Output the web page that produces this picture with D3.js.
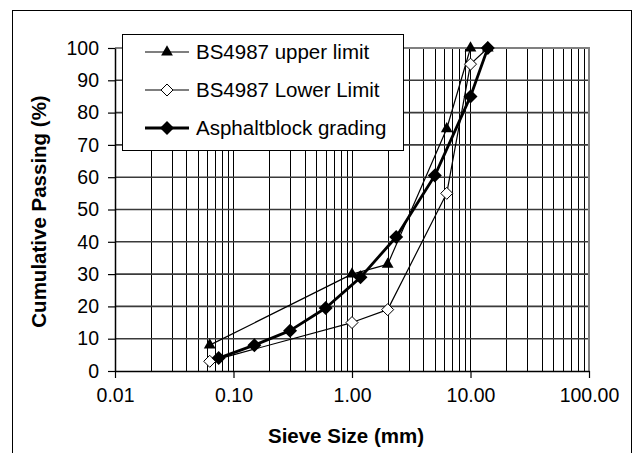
<!DOCTYPE html>
<html><head><meta charset="utf-8">
<script src="https://cdn.jsdelivr.net/npm/d3@7"></script>
<style>html,body{margin:0;padding:0;background:#fff;overflow:hidden}</style>
</head><body>
<svg id="chart" width="634" height="453"></svg>
<script>
const limitSieves = [0.063, 1.0, 2.0, 6.3, 10, 14];
const upperLimit = [8, 30, 33, 75, 100, 100];
const lowerLimit = [3, 15, 19, 55, 95, 100];
const gradingSieves = [0.075, 0.15, 0.3, 0.6, 1.18, 2.36, 5, 10, 14];
const gradingValues = [4, 8, 12.5, 19.5, 29, 41.5, 60.5, 85, 100];
const xTickValues = [0.01, 0.1, 1, 10, 100];
const xTickLabels = ["0.01", "0.10", "1.00", "10.00", "100.00"];
const yTickValues = [0, 10, 20, 30, 40, 50, 60, 70, 80, 90, 100];
const seriesNames = ["BS4987 upper limit", "BS4987 Lower Limit", "Asphaltblock grading"];

const svg = d3.select("#chart");
const font = "'Liberation Sans', Arial, sans-serif";
const L = 115, R = 589, T = 48, B = 371;
const x = d3.scaleLog().domain([0.01, 100]).range([L, R]);
const y = d3.scaleLinear().domain([0, 100]).range([B, T]);

// outer frame
svg.append("rect").attr("x", 12.5).attr("y", 10.5).attr("width", 619).attr("height", 470)
  .attr("fill", "#fff").attr("stroke", "#000").attr("stroke-width", 1);

// vertical gridlines (log minor)
const vgrid = [];
for (let d = 0.01; d < 100; d *= 10) for (let k = 1; k <= 9; k++) vgrid.push(d * k);
svg.append("g").selectAll("line").data(vgrid.filter(v => v > 0.0100001)).join("line")
  .attr("x1", d => Math.round(x(d)) + 0.5).attr("x2", d => Math.round(x(d)) + 0.5)
  .attr("y1", T).attr("y2", B).attr("stroke", "#000").attr("stroke-width", 1);

// horizontal gridlines
svg.append("g").selectAll("line").data(yTickValues.filter(v => v > 0 && v < 100)).join("line")
  .attr("x1", L).attr("x2", R).attr("y1", d => y(d)).attr("y2", d => y(d))
  .attr("stroke", "#3a3a3a").attr("stroke-width", 1.6);

// plot border (top/right)
svg.append("path").attr("d", `M${L},${T}H${R}V${B}`).attr("fill", "none")
  .attr("stroke", "#808080").attr("stroke-width", 2);

// axes
const xAxis = d3.axisBottom(x).tickValues(xTickValues).tickFormat((d, i) => xTickLabels[i])
  .tickSizeInner(7).tickSizeOuter(0).tickPadding(10);
const gx = svg.append("g").attr("transform", `translate(0,${B})`).call(xAxis);
const yAxis = d3.axisLeft(y).tickValues(yTickValues).tickSizeInner(7).tickSizeOuter(0).tickPadding(9);
const gy = svg.append("g").attr("transform", `translate(${L},0)`).call(yAxis);
[gx, gy].forEach(g => {
  g.select(".domain").attr("stroke", "#000").attr("stroke-width", 1.5);
  g.selectAll(".tick line").attr("stroke", "#000").attr("stroke-width", 1.2);
  g.selectAll("text").attr("font-family", font).attr("font-size", 19.5).attr("fill", "#000");
});
gx.selectAll("text").attr("dy", "0.71em");

// axis titles
svg.append("text").attr("x", (L + R) / 2 - 6).attr("y", 443).attr("text-anchor", "middle")
  .attr("font-family", font).attr("font-weight", "bold").attr("font-size", 20.5).text("Sieve Size (mm)");
svg.append("text").attr("transform", `translate(46,${(T + B) / 2 + 2}) rotate(-90)`).attr("text-anchor", "middle")
  .attr("font-family", font).attr("font-weight", "bold").attr("font-size", 20.5).text("Cumulative Passing (%)");

const line = d3.line().x(d => x(d[0])).y(d => y(d[1]));
const tri = d3.symbol().type(d3.symbolTriangle).size(60);
const dia = s => `M0,${-s}L${s},0L0,${s}L${-s},0Z`;

function drawSeries(sieves, vals, lw, marker) {
  const pts = sieves.map((s, i) => [s, vals[i]]);
  svg.append("path").datum(pts).attr("d", line).attr("fill", "none")
    .attr("stroke", "#000").attr("stroke-width", lw).attr("stroke-linejoin", "round");
  const g = svg.append("g");
  g.selectAll("path").data(pts).join("path")
    .attr("transform", d => `translate(${x(d[0])},${y(d[1])})`)
    .call(marker);
}
const triMarker = sel => sel.attr("d", tri).attr("fill", "#000");
const openDia = sel => sel.attr("d", dia(6)).attr("fill", "#fff").attr("stroke", "#000").attr("stroke-width", 1);
const fillDia = sel => sel.attr("d", dia(7)).attr("fill", "#000");

drawSeries(limitSieves, upperLimit, 1.2, triMarker);
drawSeries(limitSieves, lowerLimit, 1.2, openDia);
drawSeries(gradingSieves, gradingValues, 2.8, fillDia);

// legend
const lg = svg.append("g");
lg.append("rect").attr("x", 122.5).attr("y", 34.5).attr("width", 281).attr("height", 116)
  .attr("fill", "#fff").attr("stroke", "#000").attr("stroke-width", 1);
const legendY = [52, 90, 128];
const legendMarkers = [triMarker, openDia, fillDia];
const legendLw = [1.2, 1.2, 2.8];
seriesNames.forEach((name, i) => {
  lg.append("line").attr("x1", 145).attr("x2", 189).attr("y1", legendY[i]).attr("y2", legendY[i])
    .attr("stroke", "#000").attr("stroke-width", legendLw[i]);
  lg.append("path").attr("transform", `translate(167,${legendY[i]})`).call(legendMarkers[i]);
  lg.append("text").attr("x", 196).attr("y", legendY[i]).attr("dy", "0.36em")
    .attr("font-family", font).attr("font-size", 20.5).text(name);
});
</script>
</body></html>
